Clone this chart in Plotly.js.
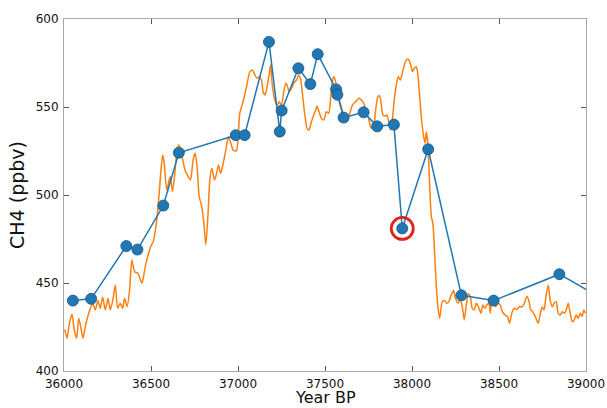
<!DOCTYPE html>
<html>
<head>
<meta charset="utf-8">
<script src="https://cdn.plot.ly/plotly-3.0.1.min.js"></script>
<style>html,body{margin:0;padding:0;background:#fff;}#chart{width:607px;height:408px;}</style>
</head>
<body>
<div id="chart"></div>
<script>
// Discrete CH4 samples (blue)
const sampleYears = [36051,36156,36358,36422,36571,36660,36987,37038,37178,37240,37251,37347,37416,37458,37564,37571,37607,37722,37800,37896,37944,38093,38284,38469,38847,39150];
const sampleCH4 = [440,441,471,469,494,524,534,534,587,536,548,572,563,580,560,557,544,547,539,540,481,526,443,440,455,438];

// Continuous CH4 record (orange)
const recordYears = [36004,36017,36031,36046,36059,36073,36084,36098,36109,36126,36145,36165,36180,36195,36208,36222,36237,36253,36266,36280,36295,36308,36323,36337,36348,36363,36377,36390,36406,36425,36448,36467,36486,36500,36513,36533,36547,36557,36567,36576,36590,36604,36612,36623,36637,36650,36661,36675,36695,36714,36727,36742,36754,36765,36777,36790,36804,36815,36827,36838,36850,36865,36877,36888,36900,36915,36930,36945,36959,36972,36991,37010,37029,37049,37068,37083,37097,37110,37121,37135,37144,37156,37167,37179,37187,37198,37212,37225,37236,37250,37263,37275,37282,37294,37307,37320,37336,37349,37359,37370,37383,37397,37408,37422,37435,37447,37454,37466,37479,37493,37508,37521,37531,37540,37550,37561,37575,37588,37604,37623,37642,37657,37676,37695,37709,37722,37737,37753,37766,37780,37791,37804,37814,37824,37833,37847,37856,37868,37877,37887,37898,37910,37921,37933,37944,37956,37967,37979,37990,38002,38013,38025,38034,38044,38055,38067,38076,38082,38091,38101,38111,38120,38130,38140,38149,38159,38174,38187,38200,38212,38225,38239,38250,38264,38277,38289,38300,38312,38323,38335,38346,38358,38369,38382,38396,38407,38419,38430,38442,38450,38457,38468,38480,38493,38507,38519,38534,38549,38560,38576,38589,38602,38618,38633,38646,38659,38671,38682,38694,38709,38725,38736,38748,38759,38771,38783,38794,38806,38817,38829,38840,38852,38863,38875,38886,38898,38909,38921,38932,38944,38955,38967,38978,38987,38997];
const recordCH4 = [423.7,418.6,427,432.4,423.3,418.6,430,424.3,418.6,427,433.7,438.5,434.7,440,435.6,442,434.7,441.3,434.7,440,448.9,435.6,438.5,435.6,441.3,436.6,446,463,456.4,455.5,449.8,459.3,466.9,471,473.5,485.8,501,514,522.7,518,502.8,508.5,510.4,501.9,512.3,525.6,528.4,523.7,514.2,510.4,508.5,519.9,523.7,516.1,499,494.3,483.9,471.6,487.7,508.5,515.2,508.5,512.3,517,512.3,518,525.6,533.1,529.4,525.6,525,546.4,553,561.5,570,571,568.2,566.3,567.2,565.3,558.7,556.8,561.5,568.2,573.9,561.5,554,551.1,553,551.1,558.7,563.5,562.5,558.7,560.6,563.5,565.3,568.2,566.3,557.8,546.4,537.9,536.9,541.6,545.5,548.3,550.6,547.3,543.6,542.6,547.3,546.4,553,563.5,567.2,564.4,556.8,552.1,546.4,544.1,546.4,551.1,553,555,554,552.1,547.3,542.6,537.9,538.8,548.3,555.9,556.3,551.1,545.5,544.9,545.5,540.7,536.9,542.6,554,562.5,567.2,565.3,569.1,573.9,576.7,577.1,574.8,570.1,572,572.9,568.2,555.9,542.6,533.1,529.4,536,529.4,506.6,487.7,483.9,467,447.9,436.5,429.9,439.4,440,438.5,439.4,443.2,445.7,441.3,438.5,440.7,436.5,429,437.5,444.1,442.3,435.6,434.7,438.5,436.5,432.8,437.5,435.6,437.5,438.5,432.8,439.4,441.3,436.5,438.5,437.5,433.7,431.8,430.9,427.1,433.7,435.6,435,436.5,436.5,438.5,442.3,440.3,434.7,433.7,430.9,427.1,431.8,436.5,434.7,443.2,448.9,440.3,436.5,438.5,439.4,432.8,431.8,433.7,432.8,434.7,438.5,432.8,428,429,431.8,429.9,432.8,430.9,434.7,432.8];

// Highlighted sample
const highlightYear = [37944];
const highlightCH4 = [481];

const xTicks = [36000,36500,37000,37500,38000,38500,39000];
const yTicks = [400,450,500,550,600];
const xTitle = 'Year BP';
const yTitle = 'CH4 (ppbv)';

const traces = [
  {x: recordYears, y: recordCH4, type: 'scatter', mode: 'lines',
   line: {color: '#ff7f0e', width: 1.5, shape: 'spline', smoothing: 0.6}, hoverinfo: 'skip'},
  {x: sampleYears, y: sampleCH4, type: 'scatter', mode: 'lines+markers',
   line: {color: '#1f77b4', width: 1.5},
   marker: {color: '#1f77b4', size: 11, line: {color: '#16557f', width: 0.8}}},
  {x: highlightYear, y: highlightCH4, type: 'scatter', mode: 'markers',
   marker: {symbol: 'circle-open', color: '#e3231b', size: 22, line: {color: '#e3231b', width: 2.8}}}
];

const axisCommon = {
  showgrid: false, zeroline: false, showline: true, mirror: 'ticks',
  linecolor: '#a8a8a8', linewidth: 1, ticks: 'inside', ticklen: 5, tickcolor: '#555',
  tickfont: {family: 'DejaVu Sans', size: 12, color: '#111'}
};

const layout = {
  width: 607, height: 408,
  margin: {l: 64, r: 21, t: 19, b: 37},
  paper_bgcolor: '#fff', plot_bgcolor: '#fff',
  showlegend: false,
  xaxis: Object.assign({}, axisCommon, {
    range: [36000, 39000], tickvals: xTicks, ticktext: xTicks.map(String),
    ticklabelstandoff: 2
  }),
  yaxis: Object.assign({}, axisCommon, {
    range: [400, 600], tickvals: yTicks, ticktext: yTicks.map(String),
    ticklabelstandoff: 2,
    title: {text: yTitle, font: {family: 'DejaVu Sans', size: 19, color: '#111'}, standoff: 6}
  }),
  annotations: [{
    text: xTitle, xref: 'paper', yref: 'paper', x: 0.5, y: 0,
    xanchor: 'center', yanchor: 'bottom', yshift: -37, borderpad: 0, showarrow: false,
    font: {family: 'DejaVu Sans', size: 16, color: '#111'}
  }]
};

Plotly.newPlot('chart', traces, layout, {displayModeBar: false, staticPlot: true});
</script>
</body>
</html>
